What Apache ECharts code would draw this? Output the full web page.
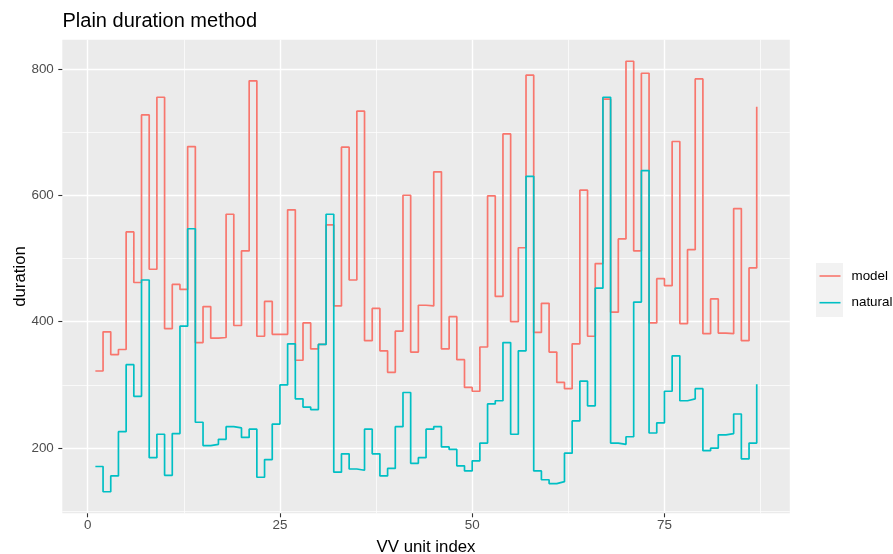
<!DOCTYPE html>
<html>
<head>
<meta charset="utf-8">
<script src="https://cdn.jsdelivr.net/npm/echarts/dist/echarts.min.js"></script>
<style>
  html, body { margin: 0; padding: 0; background: #ffffff; }
  #chart { width: 893px; height: 554px; }
</style>
</head>
<body>
<div id="chart"></div>
<script>
// ---- data ----
const seriesNames = ['model', 'natural'];
const modelValues = [322,384,348,356,542,462,727,483,755,389,
  459,451,677,367,424,374,375,570,394,512,
  781,377,432,380,380,577,339,398,357,364,
  553,425,676,466,733,370,421,354,320,385,
  600,352,426,425,637,357,408,340,296,290,
  360,599,440,697,400,517,790,383,429,352,
  304,294,365,608,377,492,752,415,531,812,
  512,793,398,468,457,685,397,514,784,381,
  436,382,381,579,370,485,740];
const naturalValues = [171,131,156,226,332,282,466,185,222,157,
  223,393,547,241,204,206,214,234,232,217,
  230,154,182,238,300,365,278,265,261,364,
  570,162,191,167,165,230,191,156,168,234,
  288,176,185,230,234,202,198,172,164,180,
  208,270,275,367,222,354,630,164,150,144,
  147,192,243,306,267,453,755,208,206,218,
  431,639,224,240,290,346,275,278,294,196,
  200,221,223,254,183,208,301];
const xMajorTicks = [0, 25, 50, 75];
const xMinorTicks = [12.5, 37.5, 62.5, 87.5];
const yMajorTicks = [200, 400, 600, 800];
const yMinorTicks = [100, 300, 500, 700];

// ---- build ----
const toPairs = vals => vals.map((v, i) => [i + 1, v]);
const modelData = toPairs(modelValues);
const naturalData = toPairs(naturalValues);

// ggplot-like 5% expansion
const xLo = 1, xHi = modelValues.length;
const xPad = (xHi - xLo) * 0.05;
const allV = modelValues.concat(naturalValues);
const yLo = Math.min(...allV), yHi = Math.max(...allV);
const yPad = (yHi - yLo) * 0.05;

const FONT = '"Liberation Sans", Arial, Helvetica, sans-serif';
const colors = ['#F8766D', '#00BFC4'];

const chart = echarts.init(document.getElementById('chart'), null, { renderer: 'canvas' });
const option = {
  animation: false,
  backgroundColor: '#ffffff',
  title: {
    text: 'Plain duration method',
    left: 62.5, top: 11.5, padding: 0,
    textStyle: { fontFamily: FONT, fontSize: 20, fontWeight: 'normal', color: '#000000' }
  },
  graphic: [{
    type: 'rect', left: 816, top: 263, z: 0,
    shape: { width: 27, height: 54 },
    style: { fill: '#F2F2F2' }
  }],
  legend: {
    data: seriesNames,
    orient: 'vertical',
    left: 819.5, top: 268, padding: 0,
    icon: 'rect', itemWidth: 21, itemHeight: 1.6, itemGap: 10.7,
    textStyle: { fontFamily: FONT, fontSize: 13.4, lineHeight: 16, color: '#000000', padding: [0, 0, 0, 6] }
  },
  grid: {
    left: 62.3, right: 103.2, top: 39.7, bottom: 40.7,
    outerBoundsMode: 'none', containLabel: false,
    show: true, backgroundColor: '#EBEBEB', borderWidth: 0
  },
  xAxis: [{
    type: 'value', min: xLo - xPad, max: xHi + xPad,
    name: 'VV unit index', nameLocation: 'middle', nameGap: 26, nameMoveOverlap: false,
    nameTextStyle: { fontFamily: FONT, fontSize: 16.8, color: '#000000' },
    axisLine: { show: false, onZero: false },
    axisTick: { show: true, length: 4, lineStyle: { color: '#333333', width: 1.1 }, customValues: xMajorTicks },
    axisLabel: { customValues: xMajorTicks, margin: 6, fontFamily: FONT, fontSize: 13.4, color: '#4D4D4D' },
    splitLine: { show: true, lineStyle: { color: '#ffffff', width: 1.4 } }
  }, {
    type: 'value', min: xLo - xPad, max: xHi + xPad, position: 'bottom',
    axisLine: { show: false, onZero: false },
    axisTick: { show: false, customValues: xMinorTicks },
    axisLabel: { show: false, customValues: xMinorTicks },
    splitLine: { show: true, lineStyle: { color: '#ffffff', width: 0.7 } }
  }],
  yAxis: [{
    type: 'value', min: yLo - yPad, max: yHi + yPad, position: 'left',
    name: 'duration', nameLocation: 'middle', nameGap: 33, nameRotate: 90, nameMoveOverlap: false,
    nameTextStyle: { fontFamily: FONT, fontSize: 16.8, color: '#000000' },
    axisLine: { show: false, onZero: false },
    axisTick: { show: true, length: 4, lineStyle: { color: '#333333', width: 1.1 }, customValues: yMajorTicks },
    axisLabel: { customValues: yMajorTicks, margin: 8.5, fontFamily: FONT, fontSize: 13.4, color: '#4D4D4D' },
    splitLine: { show: true, lineStyle: { color: '#ffffff', width: 1.4 } }
  }, {
    type: 'value', min: yLo - yPad, max: yHi + yPad, position: 'left',
    axisLine: { show: false, onZero: false },
    axisTick: { show: false, customValues: yMinorTicks },
    axisLabel: { show: false, customValues: yMinorTicks },
    splitLine: { show: true, lineStyle: { color: '#ffffff', width: 0.7 } }
  }],
  series: [{
    name: seriesNames[0], type: 'line', step: 'end', data: modelData,
    showSymbol: false, symbol: 'none', color: colors[0],
    lineStyle: { color: colors[0], width: 1.7 }, z: 2
  }, {
    name: seriesNames[1], type: 'line', step: 'end', data: naturalData,
    showSymbol: false, symbol: 'none', color: colors[1],
    lineStyle: { color: colors[1], width: 1.7 }, z: 3
  }]
};
chart.setOption(option);
</script>
</body>
</html>
